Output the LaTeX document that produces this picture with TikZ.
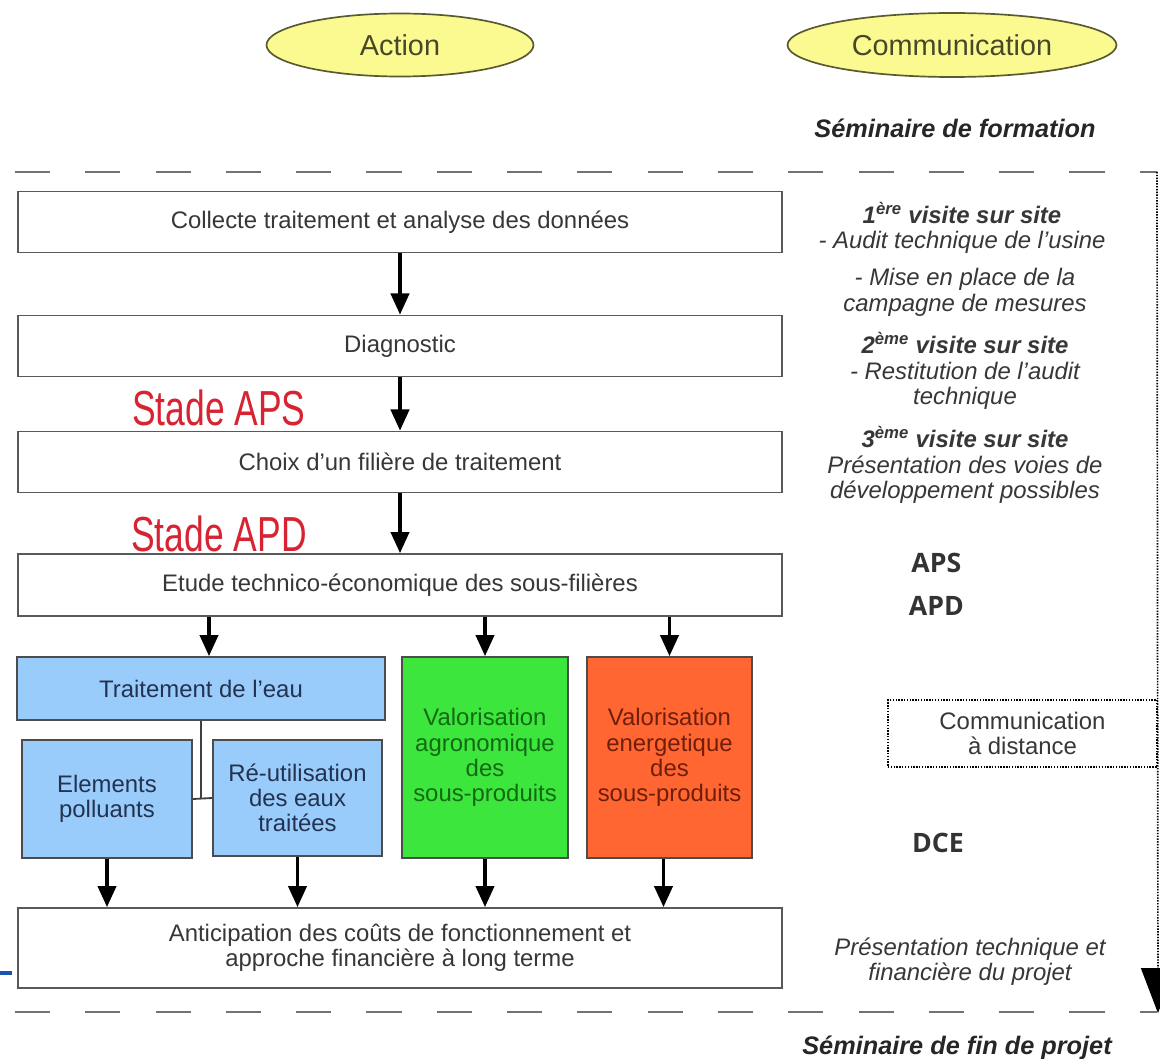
\documentclass[tikz,border=0pt]{standalone}
\usepackage{fontspec}
\setmainfont{Liberation Sans}
\newfontfamily\etroite[FakeStretch=0.72]{Liberation Sans}
\newfontfamily\sigle{Open Sans}
\usepackage[rgb]{xcolor}
\usepackage{tikz}
\usetikzlibrary{arrows.meta,shapes.geometric}

\definecolor{jaune}{RGB}{250,250,145}
\definecolor{olive}{RGB}{90,90,50}
\definecolor{bleuclair}{RGB}{153,204,250}
\definecolor{bleutexte}{RGB}{35,50,80}
\definecolor{vertvif}{RGB}{60,230,60}
\definecolor{verttexte}{RGB}{20,105,20}
\definecolor{orangevif}{RGB}{255,102,50}
\definecolor{orangetexte}{RGB}{110,30,10}
\definecolor{rougestade}{RGB}{215,35,50}
\definecolor{bleutrait}{RGB}{25,85,175}
\definecolor{gristexte}{RGB}{55,55,55}

\newcommand{\txt}{\fontsize{17}{18}\selectfont}

\begin{document}
\begin{tikzpicture}[
  bulle/.style={ellipse, draw=olive, line width=1.2pt, fill=jaune, text=olive!80!black, font=\fontsize{20.5}{22}\selectfont},
  etape/.style={draw=black!65, line width=1.3pt, fill=white, minimum width=19.1cm, minimum height=1.525cm, text=gristexte, font=\txt},
  bloc/.style={draw=black!70, line width=1.3pt, align=center, font=\txt},
  stade/.style={text=rougestade, font=\etroite\fontsize{35}{36}\selectfont},
  remarque/.style={align=center, text=gristexte, font=\txt\itshape},
  seminaire/.style={text=black!85, font=\fontsize{18}{20}\selectfont\bfseries\itshape},
  sigles/.style={text=black!80, font=\sigle\fontsize{19}{20}\selectfont\bfseries},
  fleche/.style={-{Triangle[width=13pt,length=15pt]}, line width=2.4pt, black},
  lien/.style={line width=1.3pt, black!75},
  limite/.style={line width=2pt, gray!90!black, dash pattern=on 25pt off 25pt},
  pointille/.style={line width=1.2pt, black, dash pattern=on 1pt off 1pt}
]
\path[fill=white, use as bounding box] (0,0) rectangle (29,-26.475);

%% titles of the two columns
\path
(10,-1.125) node[bulle, minimum width=6.675cm, minimum height=1.575cm](action){Action}
(23.8,-1.125) node[bulle, minimum width=8.225cm, minimum height=1.6cm](comm){Communication}
(23.875,-3.2) node[seminaire](formation){Séminaire de formation}
(23.925,-26.2) node[seminaire](finprojet){Séminaire de fin de projet};

%% dashed limits and the dotted time arrow
\coordinate (hautg) at (0.375,-4.3);
\coordinate (hautd) at (28.925,-4.3);
\coordinate (basg) at (0.375,-25.3);
\coordinate (basd) at (28.925,-25.3);
\draw[limite] (hautg) -- (hautd);
\draw[limite] (basg) -- (basd);
\draw[pointille, -{Triangle[width=24pt,length=32pt]}] (hautd) -- (28.95,-25.33);

%% action column
\path
(10,-5.55) node[etape](collecte){Collecte traitement et analyse des données}
(10,-8.65) node[etape](diag){Diagnostic}
(10,-11.55) node[etape](choix){Choix d'un filière de traitement}
(10,-14.625) node[etape, minimum height=1.55cm](etude){Etude technico-économique des sous-filières}
(10,-23.7) node[etape, minimum height=2cm, align=center](anticip){Anticipation des coûts de fonctionnement et\\approche financière à long terme};

\path
(5.475,-10.19) node[stade](aps){Stade APS}
(5.475,-13.34) node[stade](apd){Stade APD};

\draw[fleche] (collecte) -- (diag);
\draw[fleche] (diag) -- (choix);
\draw[fleche] (choix) -- (etude);

%% sub-boxes
\path
(5.025,-17.2125) node[bloc, fill=bleuclair, text=bleutexte, minimum width=9.2cm, minimum height=1.575cm](eau){Traitement de l'eau}
(2.675,-19.975) node[bloc, fill=bleuclair, text=bleutexte, minimum width=4.25cm, minimum height=2.95cm](elem){Elements\\polluants}
(7.4375,-19.95) node[bloc, fill=bleuclair, text=bleutexte, minimum width=4.225cm, minimum height=2.9cm](reutil){Ré-utilisation\\des eaux\\traitées}
(12.125,-18.9375) node[bloc, fill=vertvif, text=verttexte, minimum width=4.15cm, minimum height=5.025cm](agro){Valorisation\\agronomique\\des\\sous-produits}
(16.7375,-18.9375) node[bloc, fill=orangevif, text=orangetexte, minimum width=4.125cm, minimum height=5.025cm](energie){Valorisation\\energetique\\des\\sous-produits};

\draw[fleche] ([xshift=0.2cm]etude.south -| eau.north) -- ([xshift=0.2cm]eau.north);
\draw[fleche] (etude.south -| agro.north) -- (agro.north);
\draw[fleche] (etude.south -| energie.north) -- (energie.north);
\draw[lien] (eau.south) -- (eau.south |- elem.east);
\draw[lien] (elem.east) -- (reutil.west);

\draw[fleche] (elem) -- (elem |- anticip.north);
\draw[fleche] (reutil) -- (reutil |- anticip.north);
\draw[fleche] (agro) -- (agro |- anticip.north);
\draw[fleche] ([xshift=-0.15cm]energie.south) -- ([xshift=-0.15cm]energie.south |- anticip.north);

%% communication column
\path
(24.05,-5.69) node[remarque](visite1){\textbf{1\textsuperscript{ère} visite sur site}\\- Audit technique de l'usine}
(24.125,-7.31) node[remarque](mesures){- Mise en place de la\\campagne de mesures}
(24.125,-9.275) node[remarque](visite2){\textbf{2\textsuperscript{ème} visite sur site}\\- Restitution de l'audit\\technique}
(24.125,-11.625) node[remarque](visite3){\textbf{3\textsuperscript{ème} visite sur site}\\Présentation des voies de\\développement possibles}
(24.25,-24.05) node[remarque](presentation){Présentation technique et\\financière du projet};

\path
(23.41,-14.075) node[sigles](sigleaps){APS}
(23.41,-15.15) node[sigles](sigleapd){APD}
(23.45,-21.075) node[sigles](sigledce){DCE};

\path
(25.5625,-18.3375) node[pointille, draw, minimum width=6.725cm, minimum height=1.675cm, align=center, text=gristexte, font=\txt](distance){Communication\\à distance};

%% blue mark on the left edge
\draw[bleutrait, line width=3pt] (0,-24.325) -- (0.3,-24.325);

\end{tikzpicture}
\end{document}
